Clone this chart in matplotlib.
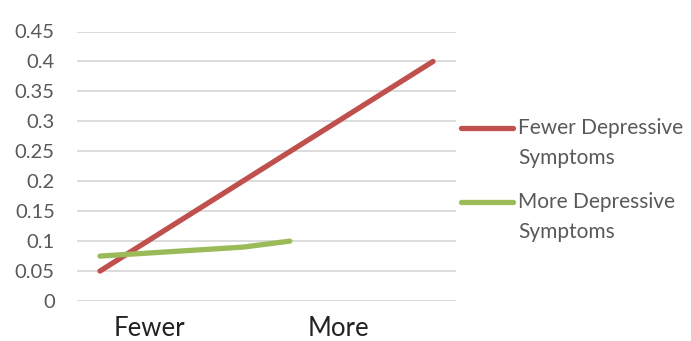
import matplotlib
matplotlib.use("Agg")
import matplotlib.pyplot as plt
from matplotlib.lines import Line2D

# ── data ─────────────────────────────────────────────────────────────────────
categories = ["Fewer", "More"]
category_pos = [0.15, 0.715]

fewer_x = [0.0, 1.0]
fewer_y = [0.05, 0.40]

more_x = [0.0, 0.43, 0.57]
more_y = [0.075, 0.09, 0.10]

series_labels = ["Fewer Depressive\nSymptoms", "More Depressive\nSymptoms"]
yticks = [0, 0.05, 0.1, 0.15, 0.2, 0.25, 0.3, 0.35, 0.4, 0.45]
ytick_labels = ["0", "0.05", "0.1", "0.15", "0.2", "0.25", "0.3", "0.35", "0.4", "0.45"]

RED = "#C0504D"
GREEN = "#9BBB59"
GREY = "#595959"

plt.rcParams["font.family"] = ["Lato", "DejaVu Sans"]

fig = plt.figure(figsize=(6.91, 3.41), dpi=100)
ax = fig.add_axes([77 / 691, 1 - 301 / 341, 379 / 691, (301 - 31.5) / 341])

ax.plot(fewer_x, fewer_y, color=RED, lw=3.8, solid_capstyle="round", zorder=3)
ax.plot(more_x, more_y, color=GREEN, lw=3.8, solid_capstyle="round",
        solid_joinstyle="round", zorder=3)

ax.set_xlim(-0.069, 1.069)
ax.set_ylim(0, 0.45)
ax.set_yticks(yticks, ytick_labels)
ax.set_xticks(category_pos, categories)
ax.tick_params(axis="y", length=0, pad=16, labelsize=14.5, labelcolor=GREY)
ax.tick_params(axis="x", length=0, pad=11, labelsize=18.5, labelcolor="#222222")
ax.grid(axis="y", color="#D9D9D9", lw=1.3)
ax.set_axisbelow(True)
for s in ax.spines.values():
    s.set_visible(False)

# ── legend (right side) ─────────────────────────────────────────────────────
for color, label, ypix in zip([RED, GREEN], series_labels, [128, 202]):
    yf = 1 - ypix / 341
    fig.add_artist(Line2D([461 / 691, 513 / 691], [yf, yf], color=color, lw=3.8,
                          solid_capstyle="round", transform=fig.transFigure))
    fig.text(518 / 691, yf, label.split("\n")[0], ha="left", va="center",
             fontsize=15, color=GREY)
    fig.text(518 / 691, yf - 30 / 341, label.split("\n")[1], ha="left",
             va="center", fontsize=15, color=GREY)

fig.savefig("out.png", dpi=100)
